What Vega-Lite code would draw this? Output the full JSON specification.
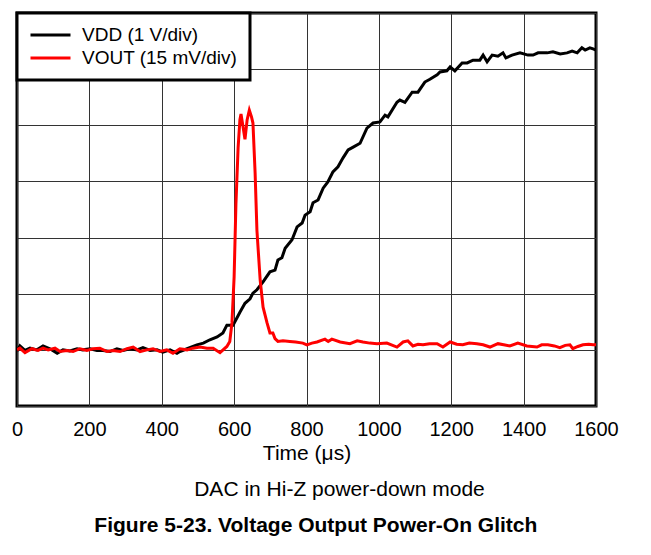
{
  "$schema": "https://vega.github.io/schema/vega-lite/v6.json",
  "autosize": {"type": "pad"},
  "padding": {"left": 9, "top": 11, "right": 5, "bottom": 5},
  "background": "white",
  "config": {
    "font": "Liberation Sans",
    "view": {"stroke": "black", "strokeWidth": 3}
  },
  "title": {
    "text": "Figure 5-23. Voltage Output Power-On Glitch",
    "orient": "bottom",
    "anchor": "middle",
    "dx": 1,
    "font": "Liberation Sans",
    "fontSize": 21,
    "fontWeight": "bold",
    "color": "black",
    "offset": 13
  },
  "datasets": {
    "VDD": [
      {"t":0,"v":0.98},{"t":8,"v":1.07},{"t":22,"v":0.99},{"t":36,"v":1.03},{"t":55,"v":1.00},{"t":72,"v":1.07},{"t":91,"v":1.02},{"t":111,"v":0.94},{"t":127,"v":1.00},{"t":146,"v":0.98},{"t":166,"v":1.02},{"t":182,"v":1.00},{"t":202,"v":1.02},{"t":221,"v":0.99},{"t":238,"v":0.99},{"t":257,"v":0.97},{"t":276,"v":1.02},{"t":293,"v":0.99},{"t":312,"v":1.02},{"t":332,"v":1.00},{"t":348,"v":1.04},{"t":368,"v":0.99},{"t":387,"v":1.00},{"t":403,"v":0.96},{"t":423,"v":1.00},{"t":442,"v":0.94},{"t":450,"v":0.97},{"t":470,"v":1.02},{"t":497,"v":1.09},{"t":515,"v":1.12},{"t":533,"v":1.18},{"t":553,"v":1.23},{"t":569,"v":1.30},{"t":580,"v":1.44},{"t":597,"v":1.44},{"t":616,"v":1.67},{"t":630,"v":1.83},{"t":644,"v":1.91},{"t":652,"v":2.01},{"t":663,"v":2.07},{"t":680,"v":2.21},{"t":699,"v":2.39},{"t":713,"v":2.42},{"t":721,"v":2.60},{"t":732,"v":2.64},{"t":741,"v":2.81},{"t":760,"v":2.96},{"t":774,"v":3.19},{"t":788,"v":3.26},{"t":796,"v":3.40},{"t":810,"v":3.46},{"t":818,"v":3.62},{"t":832,"v":3.67},{"t":846,"v":3.88},{"t":859,"v":3.99},{"t":873,"v":4.17},{"t":887,"v":4.26},{"t":901,"v":4.42},{"t":915,"v":4.56},{"t":929,"v":4.61},{"t":948,"v":4.68},{"t":967,"v":4.95},{"t":984,"v":5.04},{"t":1003,"v":5.06},{"t":1017,"v":5.18},{"t":1025,"v":5.15},{"t":1050,"v":5.41},{"t":1058,"v":5.45},{"t":1072,"v":5.41},{"t":1092,"v":5.59},{"t":1108,"v":5.59},{"t":1127,"v":5.77},{"t":1141,"v":5.82},{"t":1161,"v":5.90},{"t":1169,"v":5.95},{"t":1188,"v":5.97},{"t":1197,"v":6.04},{"t":1210,"v":5.97},{"t":1230,"v":6.11},{"t":1244,"v":6.11},{"t":1260,"v":6.16},{"t":1279,"v":6.16},{"t":1288,"v":6.25},{"t":1299,"v":6.13},{"t":1313,"v":6.25},{"t":1329,"v":6.23},{"t":1343,"v":6.29},{"t":1351,"v":6.20},{"t":1368,"v":6.25},{"t":1390,"v":6.29},{"t":1412,"v":6.25},{"t":1426,"v":6.25},{"t":1440,"v":6.29},{"t":1465,"v":6.29},{"t":1481,"v":6.31},{"t":1501,"v":6.27},{"t":1520,"v":6.29},{"t":1534,"v":6.32},{"t":1548,"v":6.29},{"t":1561,"v":6.38},{"t":1570,"v":6.34},{"t":1583,"v":6.38},{"t":1592,"v":6.36},{"t":1600,"v":6.34}
    ],
    "VOUT": [
      {"t":0,"v":1.00},{"t":8,"v":1.03},{"t":22,"v":0.95},{"t":41,"v":1.02},{"t":58,"v":0.99},{"t":72,"v":1.03},{"t":86,"v":1.00},{"t":105,"v":1.03},{"t":119,"v":0.97},{"t":138,"v":0.99},{"t":155,"v":0.97},{"t":174,"v":1.02},{"t":193,"v":0.99},{"t":210,"v":1.02},{"t":229,"v":1.03},{"t":249,"v":0.97},{"t":265,"v":0.99},{"t":285,"v":0.97},{"t":304,"v":1.02},{"t":321,"v":1.05},{"t":340,"v":0.97},{"t":359,"v":1.00},{"t":376,"v":1.02},{"t":395,"v":0.97},{"t":414,"v":1.00},{"t":431,"v":0.94},{"t":450,"v":1.02},{"t":470,"v":1.00},{"t":486,"v":1.03},{"t":506,"v":1.05},{"t":525,"v":1.03},{"t":542,"v":1.03},{"t":561,"v":0.95},{"t":580,"v":1.06},{"t":588,"v":1.15},{"t":594,"v":1.48},{"t":600,"v":2.3},{"t":605,"v":3.6},{"t":611,"v":4.6},{"t":616,"v":5.1},{"t":619,"v":5.2},{"t":624,"v":5.0},{"t":630,"v":4.75},{"t":636,"v":5.1},{"t":642,"v":5.27},{"t":648,"v":5.15},{"t":652,"v":5.04},{"t":658,"v":4.15},{"t":663,"v":3.13},{"t":672,"v":2.24},{"t":680,"v":1.76},{"t":691,"v":1.48},{"t":699,"v":1.30},{"t":707,"v":1.30},{"t":713,"v":1.20},{"t":721,"v":1.15},{"t":735,"v":1.16},{"t":754,"v":1.15},{"t":770,"v":1.14},{"t":790,"v":1.12},{"t":801,"v":1.09},{"t":815,"v":1.12},{"t":829,"v":1.14},{"t":851,"v":1.19},{"t":860,"v":1.15},{"t":870,"v":1.19},{"t":893,"v":1.14},{"t":920,"v":1.11},{"t":940,"v":1.16},{"t":956,"v":1.14},{"t":975,"v":1.12},{"t":995,"v":1.11},{"t":1022,"v":1.12},{"t":1050,"v":1.05},{"t":1067,"v":1.14},{"t":1080,"v":1.16},{"t":1094,"v":1.07},{"t":1108,"v":1.10},{"t":1122,"v":1.09},{"t":1140,"v":1.11},{"t":1161,"v":1.11},{"t":1177,"v":1.05},{"t":1197,"v":1.14},{"t":1215,"v":1.10},{"t":1232,"v":1.09},{"t":1250,"v":1.12},{"t":1271,"v":1.11},{"t":1288,"v":1.09},{"t":1307,"v":1.05},{"t":1329,"v":1.11},{"t":1345,"v":1.09},{"t":1362,"v":1.07},{"t":1384,"v":1.12},{"t":1409,"v":1.07},{"t":1437,"v":1.05},{"t":1450,"v":1.09},{"t":1467,"v":1.09},{"t":1485,"v":1.07},{"t":1500,"v":1.04},{"t":1515,"v":1.08},{"t":1528,"v":1.09},{"t":1536,"v":1.02},{"t":1550,"v":1.06},{"t":1564,"v":1.09},{"t":1580,"v":1.10},{"t":1592,"v":1.09},{"t":1600,"v":1.09}
    ]
  },
  "vconcat": [
    {
      "width": 579,
      "height": 393,
      "title": {
        "text": "DAC in Hi-Z power-down mode",
        "orient": "bottom",
        "anchor": "middle",
        "dx": 33,
        "font": "Liberation Sans",
        "fontSize": 21,
        "fontWeight": "normal",
        "color": "black",
        "offset": 16
      },
      "layer": [
        {
          "data": {"name": "VDD"},
          "transform": [{"calculate": "'VDD'", "as": "s"}],
          "mark": {"type": "line", "strokeWidth": 3, "clip": true},
          "encoding": {
            "x": {"field": "t", "type": "quantitative"},
            "y": {"field": "v", "type": "quantitative"},
            "color": {"field": "s", "type": "nominal"}
          }
        },
        {
          "data": {"name": "VOUT"},
          "transform": [{"calculate": "'VOUT'", "as": "s"}],
          "mark": {"type": "line", "strokeWidth": 3, "clip": true},
          "encoding": {
            "x": {"field": "t", "type": "quantitative"},
            "y": {"field": "v", "type": "quantitative"},
            "color": {"field": "s", "type": "nominal"}
          }
        }
      ],
      "encoding": {
        "x": {
          "field": "t",
          "type": "quantitative",
          "scale": {"domain": [0, 1600], "nice": false},
          "axis": {
            "values": [0, 200, 400, 600, 800, 1000, 1200, 1400, 1600],
            "format": "d",
            "title": "Time (μs)",
            "grid": true,
            "gridColor": "#333",
            "gridWidth": 1,
            "ticks": false,
            "domain": false,
            "labelFontSize": 20,
            "labelColor": "black",
            "labelFont": "Liberation Sans",
            "labelPadding": 13,
            "labelFlush": false,
            "titleFontSize": 21,
            "titleFont": "Liberation Sans",
            "titleFontWeight": "normal",
            "titleColor": "black",
            "titlePadding": 3
          }
        },
        "y": {
          "field": "v",
          "type": "quantitative",
          "scale": {"domain": [0, 7], "nice": false},
          "axis": {
            "values": [0, 1, 2, 3, 4, 5, 6, 7],
            "labels": false,
            "ticks": false,
            "domain": false,
            "title": null,
            "grid": true,
            "gridColor": "#333",
            "gridWidth": 1
          }
        },
        "color": {
          "field": "s",
          "type": "nominal",
          "scale": {"domain": ["VDD", "VOUT"], "range": ["black", "red"]},
          "legend": {
            "title": null,
            "orient": "top-left",
            "offset": 0,
            "padding": 12,
            "strokeColor": "black",
            "fillColor": "white",
            "symbolType": "stroke",
            "symbolSize": 1600,
            "symbolStrokeWidth": 3,
            "clipHeight": 20,
            "labelFontSize": 19,
            "labelLimit": 400,
            "labelColor": "black",
            "labelFont": "Liberation Sans",
            "labelOffset": 10,
            "rowPadding": 3,
            "labelExpr": "datum.value == 'VDD' ? 'VDD (1 V/div)' : 'VOUT (15 mV/div)'",
            "encode": {"legend": {"update": {"strokeWidth": {"value": 3}}}}
          }
        }
      }
    }
  ]
}
